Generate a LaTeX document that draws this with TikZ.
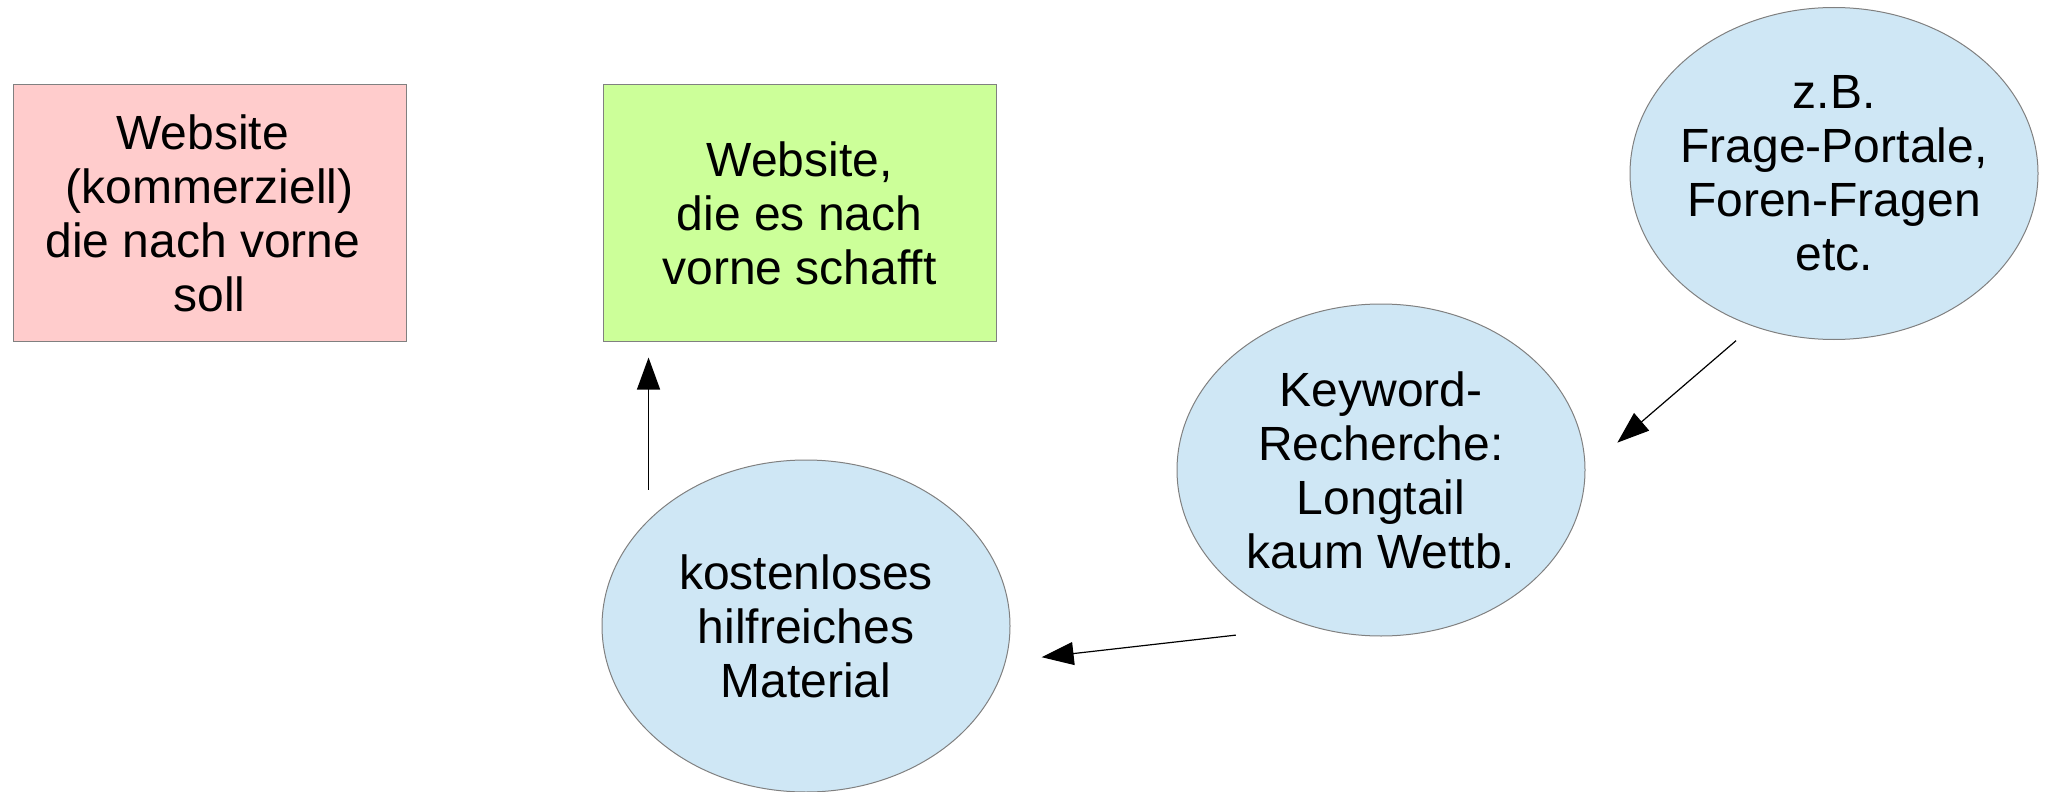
\documentclass[tikz,border=0pt]{standalone}
\usepackage{fontspec}
\setmainfont{Liberation Sans}
\usetikzlibrary{arrows.meta, shapes.geometric}
\definecolor{boxred}{HTML}{FFCCCC}
\definecolor{boxgreen}{HTML}{CCFF99}
\definecolor{blobblue}{HTML}{CFE7F5}
\definecolor{rim}{HTML}{808080}

\begin{document}
\begin{tikzpicture}[
    x=0.5pt, y=-0.5pt,
    every node/.style={font=\fontsize{24}{27}\selectfont, align=center},
    site/.style={rectangle, draw=rim, line width=0.5pt, minimum width=196.5pt, minimum height=128pt, inner sep=0pt},
    topic/.style={ellipse, draw=rim, line width=0.5pt, fill=blobblue, minimum width=204pt, minimum height=166pt, inner xsep=-24pt, inner ysep=0pt},
    flow/.style={line width=0.6pt, -{Triangle[length=16pt, width=11.5pt]}}
]
    \useasboundingbox (0,0) rectangle (2046,792);

    % Boxes
    \node[site, fill=boxred] (shop) at (209.5,213) {Website\kern0.28em\\(kommerziell)\\die nach vorne\kern0.28em\\soll};
    \node[site, fill=boxgreen] (goal) at (799.5,213) {Website,\\die es nach\\vorne schafft};

    % Ellipses
    \node[topic] (portals) at (1834,173.5) {z.B.\\Frage-Portale,\\Foren-Fragen\\etc.};
    \node[topic] (kw) at (1381,470) {Keyword-\\Recherche:\\Longtail\\kaum Wettb.};
    \node[topic] (mat) at (806,626) {kostenloses\\hilfreiches\\Material};

    % Arrows
    \draw[flow, shorten <=11pt, shorten >=21pt] (portals.242.5) -- (kw.-0.8);
    \draw[flow, shorten <=38pt, shorten >=18pt] (kw.246.7) -- (mat.-10.2);
    \draw[flow, shorten <=15pt, shorten >=8pt] (mat.146.5) -- (mat.146.5 |- goal.south);
\end{tikzpicture}
\end{document}
